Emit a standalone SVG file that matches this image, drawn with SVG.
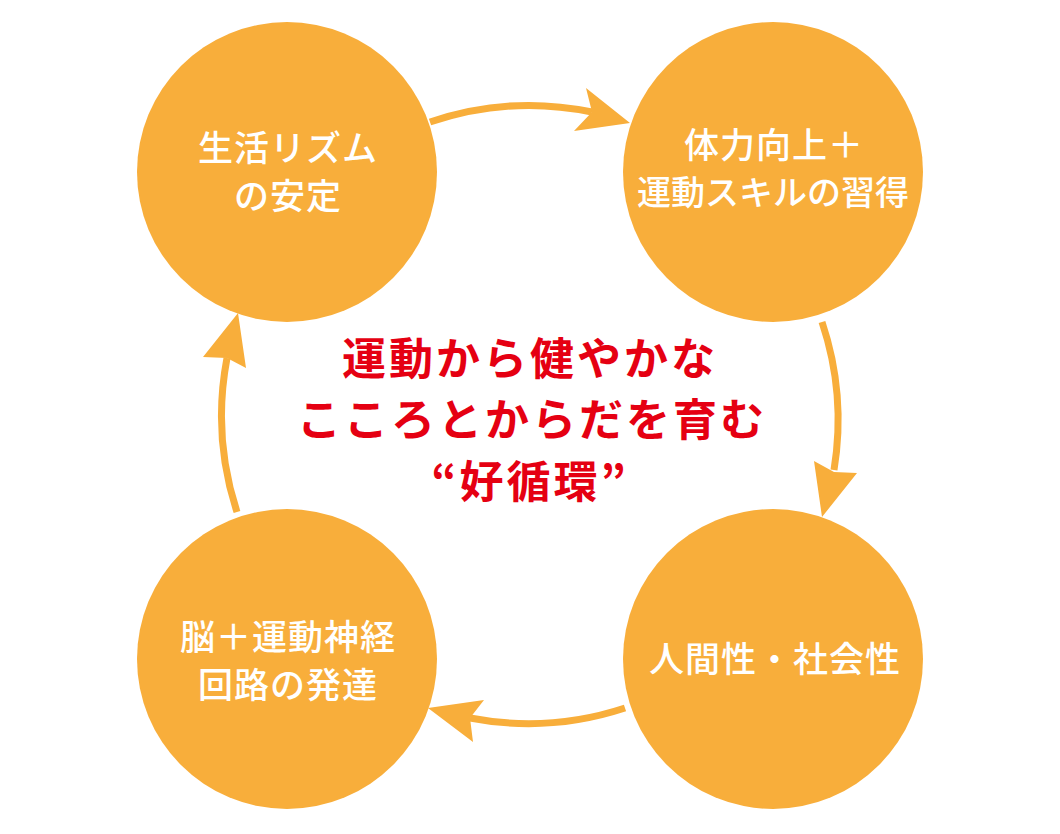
<svg xmlns="http://www.w3.org/2000/svg" width="1060" height="834" viewBox="0 0 1060 834">
<style>
.node circle{fill:#F8AE3B}
.lbl{font-family:"Noto Sans CJK JP","Noto Sans",sans-serif;font-size:35px;font-weight:500;fill:#fff;text-anchor:middle;letter-spacing:1px}
.conn path.line{fill:none;stroke:#F8AE3B;stroke-width:7}
.conn polygon{fill:#F8AE3B}
.title{font-family:"Noto Sans CJK JP","Noto Sans",sans-serif;font-size:44px;font-weight:700;fill:#E50012;text-anchor:middle;letter-spacing:3px}
</style>
<rect width="1060" height="834" fill="#fff"/>
<g id="connectors" class="conn">
<path class="line" d="M430,122 A309,309 0 0 1 592,112"/>
<polygon points="630,123 586,88 592,112 574,131"/>
<path class="line" d="M822,322 A309,309 0 0 1 834,470"/>
<polygon points="822,517 814,461 834,472 857,473"/>
<path class="line" d="M625,708 A309,309 0 0 1 470,718"/>
<polygon points="428,708 484,700 470,718 473,742"/>
<path class="line" d="M237,512 A309,309 0 0 1 227,358"/>
<polygon points="238,313 203,357 227,358 246,368"/>
</g>
<g id="node-rhythm" class="node">
<circle cx="287" cy="172" r="150"/>
<text class="lbl" x="288" y="161">生活リズム</text>
<text class="lbl" x="288" y="209">の安定</text>
</g>
<g id="node-fitness" class="node">
<circle cx="773" cy="172" r="150"/>
<text class="lbl" x="774" y="158">体力向上＋</text>
<text class="lbl" x="773" y="205" style="letter-spacing:0;font-size:34px">運動スキルの習得</text>
</g>
<g id="node-social" class="node">
<circle cx="773" cy="659" r="150"/>
<text class="lbl" x="775" y="672">人間性・社会性</text>
</g>
<g id="node-brain" class="node">
<circle cx="287" cy="659" r="150"/>
<text class="lbl" x="288" y="650">脳＋運動神経</text>
<text class="lbl" x="288" y="698">回路の発達</text>
</g>
<g id="center-title">
<text class="title" x="530" y="375">運動から健やかな</text>
<text class="title" x="532" y="436">こころとからだを育む</text>
<text class="title" x="530" y="498">“好循環”</text>
</g>
</svg>
